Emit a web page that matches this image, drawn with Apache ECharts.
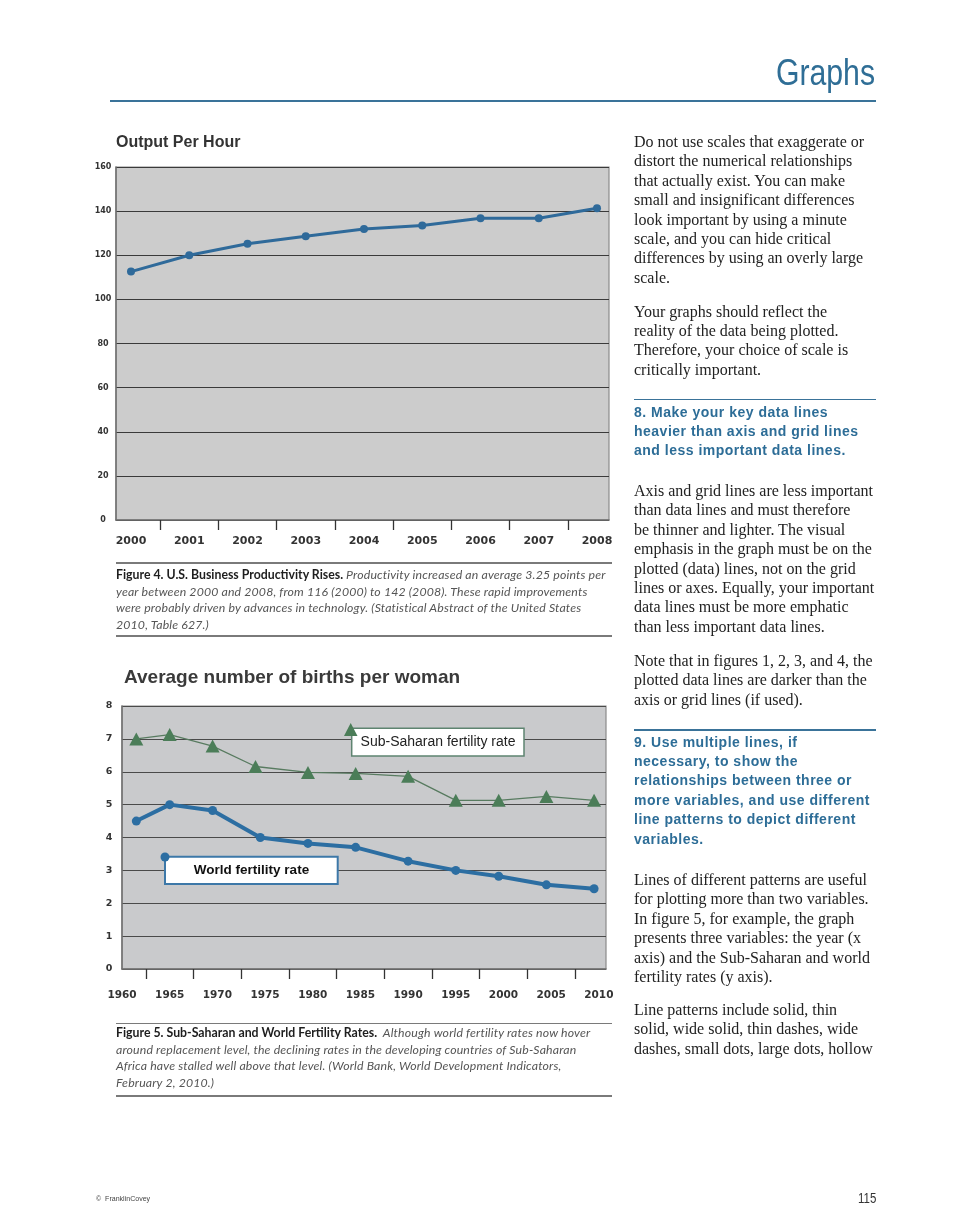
<!DOCTYPE html>
<html>
<head>
<meta charset="utf-8">
<script src="https://cdn.jsdelivr.net/npm/echarts@6.0.0/dist/echarts.min.js"></script>
<style>
  html, body { margin:0; padding:0; background:#fff; }
  #page { position:relative; width:960px; height:1229px; overflow:hidden; background:#fff; }
  #chart { position:absolute; left:0; top:0; width:960px; height:1229px; }
  .t { position:absolute; white-space:nowrap; z-index:2; }
  .body { font-family:'Liberation Serif', serif; font-size:16px; line-height:19.4px; color:#222; left:634px; }
  .head { font-family:'Liberation Sans', sans-serif; font-weight:bold; font-size:14px; line-height:19.4px; letter-spacing:0.5px; color:#2d6d97; left:634px; }
  .rule { position:absolute; z-index:2; }
  .cap { font-family:Lato, sans-serif; font-size:12.3px; letter-spacing:0.15px; line-height:16.7px; color:#555; left:116px; font-style:italic; }
  .cap b { font-style:normal; color:#1e1e1e; letter-spacing:0; }
</style>
</head>
<body>
<div id="page">
  <div id="chart"></div>

  <div class="t" style="right:85px; top:55px; font-family:'Liberation Sans',sans-serif; font-size:36px; line-height:36px; color:#2f6e96; transform:scaleX(0.84); transform-origin:right center;">Graphs</div>
  <div class="rule" style="left:110px; top:100px; width:766px; height:2px; background:#3a7399;"></div>

  <div class="t body" style="top:132px;">Do not use scales that exaggerate or<br>distort the numerical relationships<br>that actually exist. You can make<br>small and insignificant differences<br>look important by using a minute<br>scale, and you can hide critical<br>differences by using an overly large<br>scale.</div>
  <div class="t body" style="top:301.5px;">Your graphs should reflect the<br>reality of the data being plotted.<br>Therefore, your choice of scale is<br>critically important.</div>

  <div class="rule" style="left:634px; top:398.5px; width:242px; height:1.5px; background:#3a7399;"></div>
  <div class="t head" style="top:402.5px;">8. Make your key data lines<br>heavier than axis and grid lines<br>and less important data lines.</div>
  <div class="t body" style="top:481px;">Axis and grid lines are less important<br>than data lines and must therefore<br>be thinner and lighter. The visual<br>emphasis in the graph must be on the<br>plotted (data) lines, not on the grid<br>lines or axes. Equally, your important<br>data lines must be more emphatic<br>than less important data lines.</div>
  <div class="t body" style="top:651px;">Note that in figures 1, 2, 3, and 4, the<br>plotted data lines are darker than the<br>axis or grid lines (if used).</div>

  <div class="rule" style="left:634px; top:729px; width:242px; height:1.5px; background:#3a7399;"></div>
  <div class="t head" style="top:732.5px;">9. Use multiple lines, if<br>necessary, to show the<br>relationships between three or<br>more variables, and use different<br>line patterns to depict different<br>variables.</div>
  <div class="t body" style="top:870px;">Lines of different patterns are useful<br>for plotting more than two variables.<br>In figure 5, for example, the graph<br>presents three variables: the year (x<br>axis) and the Sub-Saharan and world<br>fertility rates (y axis).</div>
  <div class="t body" style="top:1000px;">Line patterns include solid, thin<br>solid, wide solid, thin dashes, wide<br>dashes, small dots, large dots, hollow</div>

  <div class="rule" style="left:116px; top:562px; width:496px; height:1.5px; background:#7a7a7a;"></div>
  <div class="t cap" style="top:567px;"><b>Figure 4. U.S. Business Productivity Rises.</b> Productivity increased an average 3.25 points per<br>year between 2000 and 2008, from 116 (2000) to 142 (2008). These rapid improvements<br>were probably driven by advances in technology. (Statistical Abstract of the United States<br>2010, Table 627.)</div>
  <div class="rule" style="left:116px; top:635px; width:496px; height:1.5px; background:#7a7a7a;"></div>

  <div class="rule" style="left:116px; top:1022.5px; width:496px; height:1.5px; background:#7a7a7a;"></div>
  <div class="t cap" style="top:1025px;"><b>Figure 5. Sub-Saharan and World Fertility Rates.</b>&nbsp; Although world fertility rates now hover<br>around replacement level, the declining rates in the developing countries of Sub-Saharan<br>Africa have stalled well above that level. (World Bank, World Development Indicators,<br>February 2, 2010.)</div>
  <div class="rule" style="left:116px; top:1095px; width:496px; height:1.5px; background:#7a7a7a;"></div>

  <div class="t" style="left:96px; top:1193px; font-family:'Liberation Sans',sans-serif; font-size:8px; line-height:12px; color:#444; transform:scaleX(0.88); transform-origin:left center;">©&nbsp; FranklinCovey</div>
  <div class="t" style="right:84px; top:1190px; font-family:'Liberation Sans',sans-serif; font-size:14px; line-height:16px; color:#333; transform:scaleX(0.82); transform-origin:right center;">115</div>
</div>

<script>
// ---- Figure 4: Output Per Hour ----
const outputYears = [2000, 2001, 2002, 2003, 2004, 2005, 2006, 2007, 2008];
const outputValues = [112.6, 120, 125.2, 128.6, 131.9, 133.5, 136.8, 136.8, 141.3];
const outputXLabels = [2000, 2001, 2002, 2003, 2004, 2005, 2006, 2007, 2008];
const outputXTicks = [2000.5, 2001.5, 2002.5, 2003.5, 2004.5, 2005.5, 2006.5, 2007.5];

// ---- Figure 5: Average number of births per woman ----
const birthXLabels = [1960, 1965, 1970, 1975, 1980, 1985, 1990, 1995, 2000, 2005, 2010];
const birthXTicks = [1962.5, 1967.5, 1972.5, 1977.5, 1982.5, 1987.5, 1992.5, 1997.5, 2002.5, 2007.5];
const ssaYears = [1961.5, 1965, 1969.5, 1974, 1979.5, 1984.5, 1990, 1995, 1999.5, 2004.5, 2009.5];
const ssaValues = [7.0, 7.13, 6.78, 6.16, 5.98, 5.95, 5.86, 5.13, 5.13, 5.25, 5.13];
const worldYears = [1961.5, 1965, 1969.5, 1974.5, 1979.5, 1984.5, 1990, 1995, 1999.5, 2004.5, 2009.5];
const worldValues = [4.5, 5.0, 4.82, 4.0, 3.82, 3.7, 3.28, 3.0, 2.82, 2.56, 2.44];

const ssaName = 'Sub-Saharan fertility rate';
const worldName = 'World fertility rate';

const chart = echarts.init(document.getElementById('chart'), null, { renderer: 'canvas' });

const axisNum = 'DejaVu Sans';
const pairs = (xs, ys) => xs.map((x, i) => [x, ys[i]]);

const option = {
  animation: false,
  backgroundColor: 'transparent',
  title: [
    { text: 'Output Per Hour', left: 116, top: 135, padding: 0,
      textStyle: { fontFamily: 'Liberation Sans', fontWeight: 'bold', fontSize: 16, color: '#333' } },
    { text: 'Average number of births per woman', left: 124, top: 668, padding: 0,
      textStyle: { fontFamily: 'Liberation Sans', fontWeight: 'bold', fontSize: 19, color: '#3a3a3a' } }
  ],
  grid: [
    { left: 116, top: 167, width: 493, height: 353, show: true, backgroundColor: '#cccccc',
      borderColor: '#8a8a8a', borderWidth: 1.2 },
    { left: 122, top: 706, width: 484, height: 263, show: true, backgroundColor: '#c9cacc',
      borderColor: '#8a8a8a', borderWidth: 1.2 }
  ],
  xAxis: [
    { type: 'value', gridIndex: 0, min: 1999.7425, max: 2008.206,
      splitLine: { show: false },
      axisLine: { show: true, lineStyle: { color: '#707070', width: 1.5 } },
      axisTick: { show: true, customValues: outputXTicks, length: 10, lineStyle: { color: '#333', width: 1.3 } },
      axisLabel: { customValues: outputXLabels, margin: 16, fontFamily: axisNum, fontWeight: 'bold', fontSize: 11,
        color: '#333', formatter: v => String(Math.round(v)) } },
    { type: 'value', gridIndex: 1, min: 1960, max: 2010.75,
      splitLine: { show: false },
      axisLine: { show: true, lineStyle: { color: '#707070', width: 1.5 } },
      axisTick: { show: true, customValues: birthXTicks, length: 10, lineStyle: { color: '#333', width: 1.3 } },
      axisLabel: { customValues: birthXLabels, margin: 21, fontFamily: axisNum, fontWeight: 'bold', fontSize: 10.5,
        color: '#333', formatter: v => String(Math.round(v)) } }
  ],
  yAxis: [
    { type: 'value', gridIndex: 0, min: 0, max: 160, interval: 20,
      axisLine: { show: true, lineStyle: { color: '#707070', width: 1.5 } },
      axisTick: { show: false },
      splitLine: { show: true, lineStyle: { color: '#3a3a3a', width: 1 } },
      axisLabel: { align: 'center', margin: 13, fontFamily: axisNum, fontWeight: 'bold', fontSize: 8, color: '#333' } },
    { type: 'value', gridIndex: 1, min: 0, max: 8, interval: 1,
      axisLine: { show: true, lineStyle: { color: '#707070', width: 1.5 } },
      axisTick: { show: false },
      splitLine: { show: true, lineStyle: { color: '#4a4a4a', width: 1 } },
      axisLabel: { align: 'center', margin: 13, fontFamily: axisNum, fontWeight: 'bold', fontSize: 9.5, color: '#333' } }
  ],
  series: [
    { name: 'Output Per Hour', type: 'line', xAxisIndex: 0, yAxisIndex: 0,
      data: pairs(outputYears, outputValues),
      symbol: 'circle', symbolSize: 8, showSymbol: true,
      lineStyle: { color: '#2f6a9a', width: 3 }, itemStyle: { color: '#2f6a9a' } },
    { name: ssaName, type: 'line', xAxisIndex: 1, yAxisIndex: 1,
      data: pairs(ssaYears, ssaValues),
      symbol: 'triangle', symbolSize: [14, 13], showSymbol: true,
      lineStyle: { color: '#587b60', width: 1.3 }, itemStyle: { color: '#4b7d58' } },
    { name: worldName, type: 'line', xAxisIndex: 1, yAxisIndex: 1,
      data: pairs(worldYears, worldValues),
      symbol: 'circle', symbolSize: 9, showSymbol: true,
      lineStyle: { color: '#2c6ea2', width: 4 }, itemStyle: { color: '#2c6ea2' } }
  ],
  graphic: [
    { type: 'rect', z: 100, shape: { x: 351.7, y: 728.3, width: 172.3, height: 27.7 },
      style: { fill: '#ffffff', stroke: '#5e8470', lineWidth: 1.5 } },
    { type: 'text', z: 101, x: 438, y: 742.3,
      style: { text: ssaName, fontFamily: 'Liberation Sans', fontSize: 14, fill: '#222',
        align: 'center', verticalAlign: 'middle' } },
    { type: 'polygon', z: 102, shape: { points: [[344, 736], [357.5, 736], [350.7, 723]] },
      style: { fill: '#4b7d58' } },
    { type: 'rect', z: 100, shape: { x: 165, y: 856.7, width: 172.7, height: 27.3 },
      style: { fill: '#ffffff', stroke: '#3d78a8', lineWidth: 2 } },
    { type: 'text', z: 101, x: 251.5, y: 870.6,
      style: { text: worldName, fontFamily: 'Liberation Sans', fontWeight: 'bold', fontSize: 13.5, fill: '#111',
        align: 'center', verticalAlign: 'middle' } },
    { type: 'circle', z: 102, shape: { cx: 165, cy: 857, r: 4.5 }, style: { fill: '#2c6ea2' } }
  ]
};
chart.setOption(option);
</script>
</body>
</html>
